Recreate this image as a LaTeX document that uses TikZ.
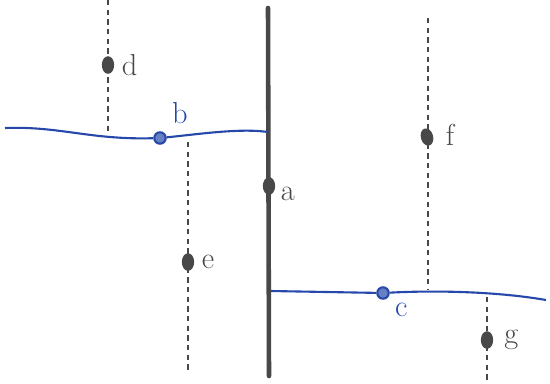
\documentclass[tikz,border=0pt]{standalone}
\usepackage{tikz}
\usetikzlibrary{shapes.geometric, positioning}
\definecolor{ink}{RGB}{72, 72, 72}
\definecolor{pen}{RGB}{38, 72, 170}

\begin{document}
\begin{tikzpicture}[
    x=0.02cm, y=-0.02cm,
    wall/.style={draw=ink, line width=2.6pt, line cap=round},
    cord/.style={draw=pen, line width=1.2pt},
    guide/.style={draw=ink, line width=1.3pt, dash pattern=on 3pt off 2.5pt},
    dot/.style={ellipse, fill=ink, inner sep=0pt, minimum width=7pt, minimum height=10pt},
    bead/.style={circle, draw=pen, fill=pen!70, line width=1.2pt, inner sep=0pt, minimum size=6.5pt},
    tag/.style={font=\LARGE, text=ink, inner sep=1pt},
    btag/.style={tag, text=pen}
  ]
  \useasboundingbox (0,0) rectangle (550,383);

  % Thick vertical line
  \coordinate (wtop) at (268,8);
  \coordinate (wbot) at (269,376);
  \draw[wall] (wtop) -- (wbot);

  % Blue lines
  \coordinate (l1a) at (5,128);
  \coordinate (l1b) at (268,132);
  \coordinate (l2a) at (271,291);
  \coordinate (l2b) at (546,300);
  \node[bead] (pb) at (160,138) {};
  \node[bead] (pc) at (383,293) {};
  \draw[cord] (l1a) .. controls (60,126) and (90,140) .. (pb)
                    .. controls (200,134) and (240,128) .. (l1b);
  \draw[cord] (l2a) -- (pc) .. controls (440,290) and (500,292) .. (l2b);

  % Dashed guides
  \coordinate (dtop) at (108,0);   \coordinate (dbot) at (108,134);
  \coordinate (etop) at (188,142); \coordinate (ebot) at (188,372);
  \coordinate (ftop) at (428,18);  \coordinate (fbot) at (428,290);
  \coordinate (gtop) at (487,297); \coordinate (gbot) at (487,380);
  \draw[guide] (dtop) -- (dbot);
  \draw[guide] (etop) -- (ebot);
  \draw[guide] (ftop) -- (fbot);
  \draw[guide] (gtop) -- (gbot);

  % Points
  \node[dot] (pa) at (269,186) {};
  \node[dot] (pd) at (108,65) {};
  \node[dot] (pe) at (188,262) {};
  \node[dot, rotate=15] (pf) at (427,137) {};
  \node[dot] (pg) at (487,340) {};

  % Labels
  \node[tag,  below right=-4pt and 3pt of pa] {a};
  \node[btag, above right=4pt and 3pt of pb] {b};
  \node[btag, below right=2pt and 3pt of pc] {c};
  \node[tag,  right=3pt of pd] {d};
  \node[tag,  right=3pt of pe] {e};
  \node[tag,  right=6pt of pf] {f};
  \node[tag,  right=5pt of pg] {g};
\end{tikzpicture}
\end{document}
